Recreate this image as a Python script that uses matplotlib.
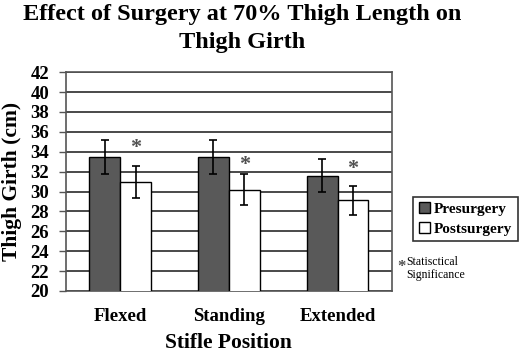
import numpy as np
import matplotlib
matplotlib.use("Agg")
import matplotlib.pyplot as plt

positions = ["Flexed", "Standing", "Extended"]
pre_mean = [33.5, 33.5, 31.6]
pre_err = [1.7, 1.7, 1.65]
post_mean = [31.0, 30.2, 29.1]
post_err = [1.6, 1.55, 1.45]
# heights of the significance stars above the postsurgery bars
star_y = [34.6, 32.9, 32.5]

plt.rcParams["font.family"] = ["Liberation Serif", "DejaVu Serif"]

fig = plt.figure(figsize=(5.19, 3.54), dpi=100)
ax = fig.add_axes([0.127, 0.178, 0.628, 0.618])

x = np.arange(len(positions))
w = 0.285
ax.bar(x - w / 2, pre_mean, w, color="#595959", edgecolor="black",
       linewidth=1, label="Presurgery", zorder=3)
ax.bar(x + w / 2, post_mean, w, color="white", edgecolor="black",
       linewidth=1, label="Postsurgery", zorder=3)
ax.errorbar(x - w / 2, pre_mean, yerr=pre_err, fmt="none", ecolor="black",
            elinewidth=1.2, capsize=3, capthick=1.2, zorder=4)
ax.errorbar(x + w / 2, post_mean, yerr=post_err, fmt="none", ecolor="black",
            elinewidth=1.2, capsize=3, capthick=1.2, zorder=4)

for i, sy in enumerate(star_y):
    ax.text(x[i] + w / 2, sy, "*", ha="center", va="center_baseline",
            fontsize=16, fontweight="bold", color="#505050", zorder=5)

ax.set_ylim(20, 42)
ax.set_xlim(-0.5, 2.5)
ax.set_yticks(np.arange(20, 43, 2))
ax.yaxis.grid(True, color="#3a3a3a", linewidth=1.3, zorder=0)
ax.set_axisbelow(True)
ax.set_xticks(x)
ax.set_xticklabels(positions, fontsize=13.5, fontweight="bold")
ax.tick_params(axis="x", length=0, pad=12)
ax.tick_params(axis="y", length=5, width=1, color="#555555", labelsize=13.5, pad=7)
for lbl in ax.get_yticklabels():
    lbl.set_fontweight("bold")
for s in ax.spines.values():
    s.set_color("#555555")
    s.set_linewidth(1.2)

ax.set_ylabel("Thigh Girth (cm)", fontsize=15.5, fontweight="bold", labelpad=6)
ax.set_xlabel("Stifle Position", fontsize=15.5, fontweight="bold", labelpad=6)
fig.suptitle("Effect of Surgery at 70% Thigh Length on\nThigh Girth",
             x=0.467, y=0.988, fontsize=17.5, fontweight="bold", linespacing=1.45)

leg = fig.legend(loc="upper left", bbox_to_anchor=(0.782, 0.465), frameon=True,
                 fancybox=False, edgecolor="black", prop={"weight": "bold", "size": 11},
                 handlelength=0.7, handleheight=0.7, handletextpad=0.3,
                 borderpad=0.35, labelspacing=0.4)
leg.get_frame().set_linewidth(1.2)

fig.text(0.766, 0.252, "*", fontsize=12, fontweight="bold", color="#505050",
         ha="left", va="center_baseline")
fig.text(0.782, 0.242, "Statisctical\nSignificance", fontsize=8.5, ha="left",
         va="center", linespacing=1.15)

fig.savefig("out.png", dpi=100)
